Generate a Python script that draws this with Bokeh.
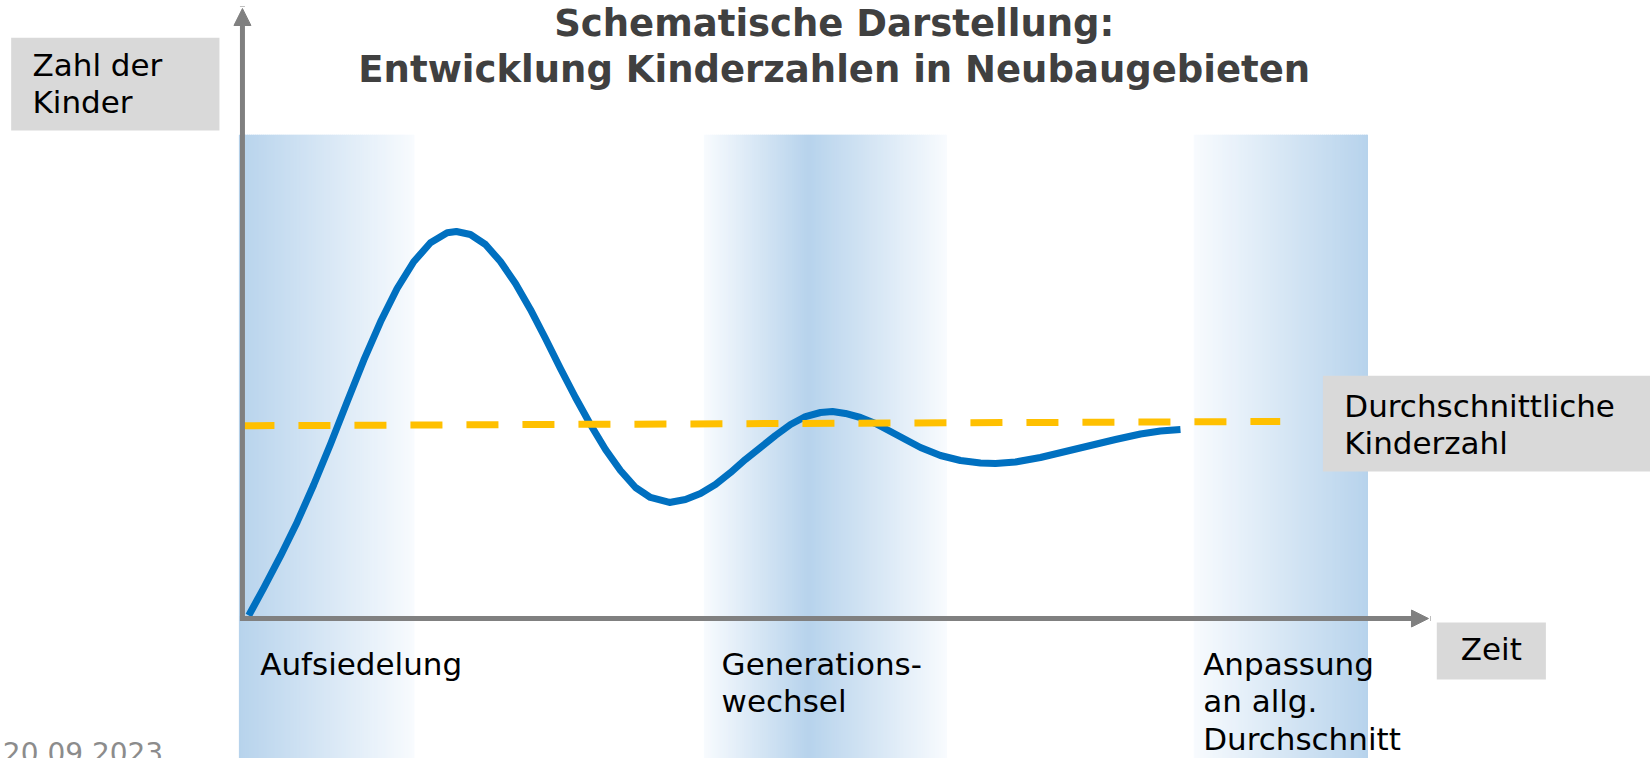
from bokeh.plotting import figure
from bokeh.models import Range1d, Arrow, NormalHead
from bokeh.embed import file_html
from bokeh.resources import INLINE
from bokeh.core.properties import value

# ---------------- data (schematic units: time 0-100 along x arrow, children 0-100 along y arrow)
time = [0.53, 1.80, 3.20, 4.61, 6.01, 7.42, 8.83, 10.23, 11.64, 13.04, 14.44, 15.85, 17.26, 18.04,
        19.22, 20.49, 21.75, 23.02, 24.28, 25.55, 26.81, 28.08, 29.34, 30.61, 31.87, 33.14,
        34.40, 36.00, 37.35, 38.62, 39.88, 41.15, 42.41, 43.68, 44.94, 46.21, 47.47, 48.74,
        49.75, 50.84, 52.11, 53.37, 54.64, 55.90, 57.17, 58.85, 60.54, 62.23, 63.49, 65.18,
        67.28, 69.39, 71.50, 73.61, 75.72, 77.40, 79.09]
children = [0.49, 5.03, 10.21, 15.79, 21.92, 28.57, 35.52, 42.34, 48.64, 54.10, 58.48, 61.59, 63.23, 63.44,
            62.95, 61.31, 58.52, 54.92, 50.66, 45.90, 40.98, 36.23, 31.80, 27.70, 24.26, 21.48,
            19.84, 19.02, 19.51, 20.49, 21.97, 23.93, 26.07, 28.03, 30.00, 31.80, 33.11, 33.77,
            33.93, 33.61, 32.95, 31.97, 30.66, 29.34, 28.03, 26.72, 25.90, 25.49, 25.41, 25.66,
            26.39, 27.38, 28.36, 29.34, 30.25, 30.74, 30.98]

avg_time = [0.0, 87.5]
avg_children = [31.6, 32.3]

phase_labels = ["Aufsiedelung", "Generations-\nwechsel", "Anpassung\nan allg.\nDurchschnitt"]
phase_start = [-0.3, 38.9, 80.2]
phase_end = [14.5, 59.4, 94.9]
phase_peak = [-0.3, 47.7, 94.9]   # darkest point of each band
band_top = 79.3

title_lines = ["Schematische Darstellung:", "Entwicklung Kinderzahlen in Neubaugebieten"]
y_label = "Zahl der\nKinder"
x_label = "Zeit"
avg_label = "Durchschnittliche\nKinderzahl"
date_text = "20.09.2023"

# ---------------- layout constants
X0, X1 = -20.40, 118.72
Y0, Y1 = -22.95, 101.31
PX_X = 11.86   # px per time unit
PX_Y = 6.1     # px per children unit
LINE_STEP = 37.5 / PX_Y
FONT = value("DejaVu Sans")

p = figure(width=1650, height=758, output_backend="svg", toolbar_location=None,
           x_range=Range1d(X0, X1), y_range=Range1d(Y0, Y1), min_border=0)
p.axis.visible = False
p.grid.visible = False
p.outline_line_color = None
p.background_fill_color = "white"
p.border_fill_color = "white"

# ---------------- gradient bands
dark = (183, 211, 236)
light = (248, 251, 254)
ql, qr, qc = [], [], []
for s, e, pk in zip(phase_start, phase_end, phase_peak):
    n = int((e - s) * PX_X / 2)
    w = (e - s) / n
    for i in range(n):
        x0 = s + w * i
        xm = x0 + w / 2
        if xm <= pk:
            f = (pk - xm) / (pk - s) if pk > s else 0.0
        else:
            f = (xm - pk) / (e - pk) if e > pk else 0.0
        f = min(max(f, 0.0), 1.0)
        c = tuple(int(round(d + (l - d) * f)) for d, l in zip(dark, light))
        ql.append(x0)
        qr.append(min(x0 + w * 1.6, e))
        qc.append("#%02x%02x%02x" % c)
p.quad(left=ql, right=qr, bottom=Y0 - 5, top=band_top, fill_color=qc, line_color=None)

# ---------------- label boxes
p.quad(left=[-19.5, 100.7, 91.1], right=[-1.94, 109.9, 125],
       bottom=[80.0, -10.0, 24.1], top=[95.2, -0.66, 39.8],
       fill_color="#d9d9d9", line_color=None)

# ---------------- curve and average
p.line(time, children, line_color="#0070c0", line_width=7, line_join="round")
p.line(avg_time, avg_children, line_color="#ffc000", line_width=7, line_dash="32 24")

# ---------------- axes with arrows
head = dict(size=17, fill_color="#808080", line_color="#808080", line_width=1)
p.add_layout(Arrow(end=NormalHead(**head), x_start=0, y_start=0, x_end=100, y_end=0,
                   line_color="#808080", line_width=5, line_cap="square"))
p.add_layout(Arrow(end=NormalHead(**head), x_start=0, y_start=0, x_end=0, y_end=100,
                   line_color="#808080", line_width=5, line_cap="square"))

# ---------------- texts
def add_text(txt, x, y, size, color="black", style="normal", align="left"):
    lines = txt.split("\n")
    xs = [x] * len(lines)
    ys = [y - i * LINE_STEP for i in range(len(lines))]
    p.text(xs, ys, text=lines, text_font=FONT, text_font_size=size, text_color=color,
           text_font_style=style, text_align=align, text_baseline="middle")

p.text([49.9, 49.9], [97.5, 90.0], text=title_lines, text_font=FONT, text_font_size="37px",
       text_color="#404040", text_font_style="bold", text_align="center", text_baseline="middle")

add_text(y_label, -17.7, 90.8, "31px")
phase_x = [1.5, 40.4, 81.0]
for lab, xx in zip(phase_labels, phase_x):
    add_text(lab, xx, -7.38, "31px")
add_text(x_label, 105.3, -5.08, "31px", align="center")
add_text(avg_label, 92.9, 34.9, "31px")
add_text(date_text, -20.2, -21.9, "28px", color="#8c8c8c")

open("out.html", "w").write(file_html(p, INLINE))
